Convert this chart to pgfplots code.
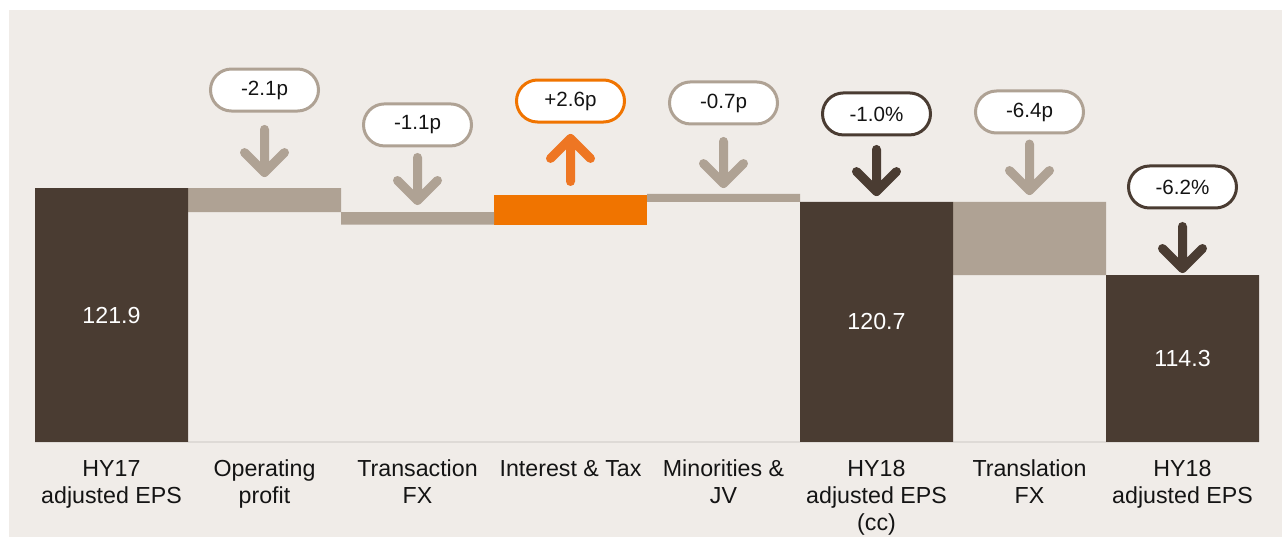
\documentclass[border=0pt]{standalone}
\usepackage{pgfplots}
\pgfplotsset{compat=1.18}
\usepackage{fontspec}
\setmainfont{Liberation Sans}
\definecolor{bg}{RGB}{240,236,232}
\definecolor{dark}{RGB}{74,60,50}
\definecolor{taupe}{RGB}{175,162,148}
\definecolor{orng}{RGB}{240,116,0}
\definecolor{orarrow}{RGB}{238,118,35}
\definecolor{txt}{RGB}{20,20,20}
\definecolor{baseline}{RGB}{222,218,214}

\tikzset{
  box/.style={draw=#1, fill=white, line width=1.5pt, rounded corners=10.5pt,
    minimum width=54pt, minimum height=21pt, inner sep=0pt, text=txt,
    font=\fontsize{10.3}{12}\selectfont},
  arr/.style={draw=#1, line width=4.5pt, line cap=round, line join=round}
}
\newcommand{\downarr}[4]{% x, top, tip, colour
  \draw[arr=#4] (axis cs:#1,#2) -- (axis cs:#1,#3) -- ++(-10pt,10pt)
    (axis cs:#1,#3) -- ++(10pt,10pt);}
\newcommand{\uparr}[4]{% x, bottom, tip, colour
  \draw[arr=#4] (axis cs:#1,#2) -- (axis cs:#1,#3) -- ++(-10pt,-10pt)
    (axis cs:#1,#3) -- ++(10pt,-10pt);}

\begin{document}
\begin{tikzpicture}
\fill[white] (0,0) rectangle (641pt,268.5pt);
\fill[bg] (4.5pt,0) rectangle (641pt,263.5pt);
\useasboundingbox (0,0) rectangle (641pt,268.5pt);
\begin{axis}[
  at={(17.5pt,47.5pt)}, anchor=south west,
  scale only axis, width=612pt, height=216pt,
  xmin=-0.5, xmax=7.5, ymin=99.72, ymax=137.45,
  ybar stacked, bar width=1,
  axis y line=none, axis x line*=bottom,
  x axis line style={draw=baseline, line width=0.6pt},
  xtick={0,...,7},
  xticklabels={{HY17\\adjusted EPS},{Operating\\profit},{Transaction\\FX},{Interest \& Tax},{Minorities \&\\JV},{HY18\\adjusted EPS\\(cc)},{Translation\\FX},{HY18\\adjusted EPS}},
  major tick length=0pt,
  xticklabel style={align=center, font=\fontsize{11.6}{13.5}\selectfont, text=txt, yshift=-5.5pt},
  clip=true,
]
% invisible base
\addplot[draw=none, fill=none] coordinates {(0,0) (1,119.8) (2,118.7) (3,118.7) (4,120.7) (5,0) (6,114.3) (7,0)};
% totals
\addplot[draw=none, fill=dark] coordinates {(0,121.9) (1,0) (2,0) (3,0) (4,0) (5,120.7) (6,0) (7,114.3)};
% decreases
\addplot[draw=none, fill=taupe] coordinates {(0,0) (1,2.1) (2,1.1) (3,0) (4,0.7) (5,0) (6,6.4) (7,0)};
% increase
\addplot[draw=none, fill=orng] coordinates {(0,0) (1,0) (2,0) (3,2.6) (4,0) (5,0) (6,0) (7,0)};

% positions for value labels (drawn after the axis, above the bars)
\coordinate (v0) at (axis cs:0,110.81);
\coordinate (v5) at (axis cs:5,110.21);
\coordinate (v7) at (axis cs:7,107.01);

% arrows
\downarr{1}{127.02}{123.25}{taupe}
\downarr{2}{124.57}{120.81}{taupe}
\uparr{3}{122.47}{126.23}{orarrow}
\downarr{4}{125.97}{122.29}{taupe}
\downarr{5}{125.27}{121.59}{dark}
\downarr{6}{125.74}{121.68}{taupe}
\downarr{7}{118.54}{114.87}{dark}

% callout boxes
\node[box=taupe] at (axis cs:1,130.46) {-2.1p};
\node[box=taupe] at (axis cs:2,127.41) {-1.1p};
\node[box=orng] at (axis cs:3,129.50) {+2.6p};
\node[box=taupe] at (axis cs:4,129.33) {-0.7p};
\node[box=dark] at (axis cs:5,128.37) {-1.0\%};
\node[box=taupe] at (axis cs:6,128.54) {-6.4p};
\node[box=dark] at (axis cs:7,121.99) {-6.2\%};
\end{axis}
\node[text=white, font=\fontsize{11.6}{13}\selectfont] at (v0) {121.9};
\node[text=white, font=\fontsize{11.6}{13}\selectfont] at (v5) {120.7};
\node[text=white, font=\fontsize{11.6}{13}\selectfont] at (v7) {114.3};
\end{tikzpicture}
\end{document}
